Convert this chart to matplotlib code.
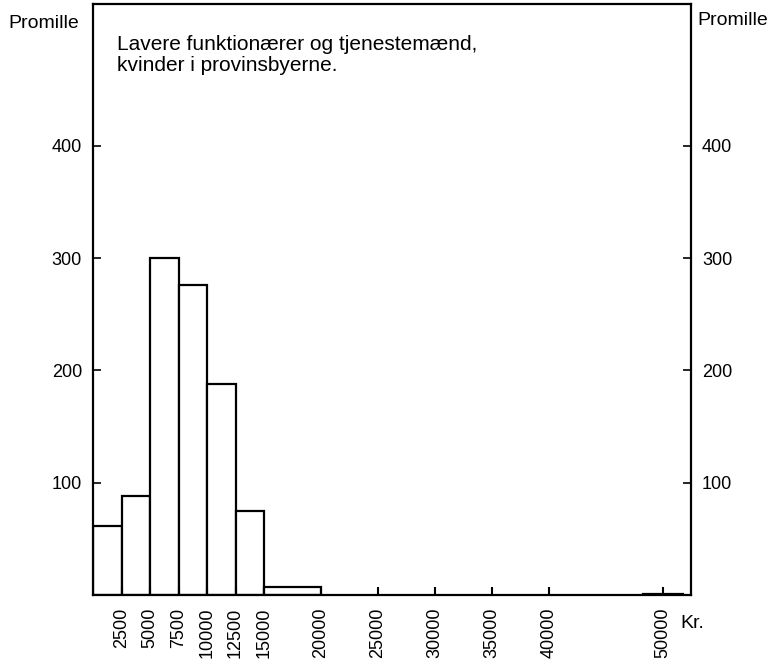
import matplotlib
matplotlib.use("Agg")
import matplotlib.pyplot as plt

plt.rcParams['font.family'] = ['Liberation Sans', 'DejaVu Sans']

# Data (promille per income class, Kr.)
bin_left = [0, 2500, 5000, 7500, 10000, 12500, 15000, 48250]
bin_right = [2500, 5000, 7500, 10000, 12500, 15000, 20000, 51750]
promille = [62, 88, 300, 276, 188, 75, 7, 1]

xticks = [2500, 5000, 7500, 10000, 12500, 15000, 20000, 25000, 30000, 35000, 40000, 50000]
yticks = [100, 200, 300, 400]

fig = plt.figure(figsize=(7.76, 6.65), dpi=100)
ax = fig.add_axes([93/776, 1 - 595.3/665, (691-93)/776, (595.3-4)/665])

widths = [r - l for l, r in zip(bin_left, bin_right)]
ax.bar(bin_left, promille, width=widths, align='edge', facecolor='white',
       edgecolor='black', linewidth=1.6)

ax.set_xlim(0, 52450)
ax.set_ylim(0, 526)

ax.set_xticks(xticks)
ax.set_xticklabels([str(t) for t in xticks], rotation=90, fontsize=13)
ax.set_yticks(yticks)
ax.set_yticklabels([str(t) for t in yticks], fontsize=13)
ax.tick_params(axis='x', direction='in', length=6, width=1.5, pad=9)
ax.tick_params(axis='y', direction='in', length=6, width=1.2, pad=8,
               left=True, right=True, labelleft=True, labelright=True)
for s in ax.spines.values():
    s.set_linewidth(1.6)

ax.text(-0.142, 0.982, 'Promille', transform=ax.transAxes, fontsize=14,
        ha='left', va='top')
ax.text(1.010, 0.987, 'Promille', transform=ax.transAxes, fontsize=14,
        ha='left', va='top')
ax.text(0.040, 0.947, 'Lavere funktionærer og tjenestemænd,\nkvinder i provinsbyerne.',
        transform=ax.transAxes, fontsize=15, ha='left', va='top', linespacing=1.1)
ax.text(0.9816, -0.033, 'Kr.', transform=ax.transAxes, fontsize=14,
        ha='left', va='top')

fig.savefig('out.png', dpi=100)
